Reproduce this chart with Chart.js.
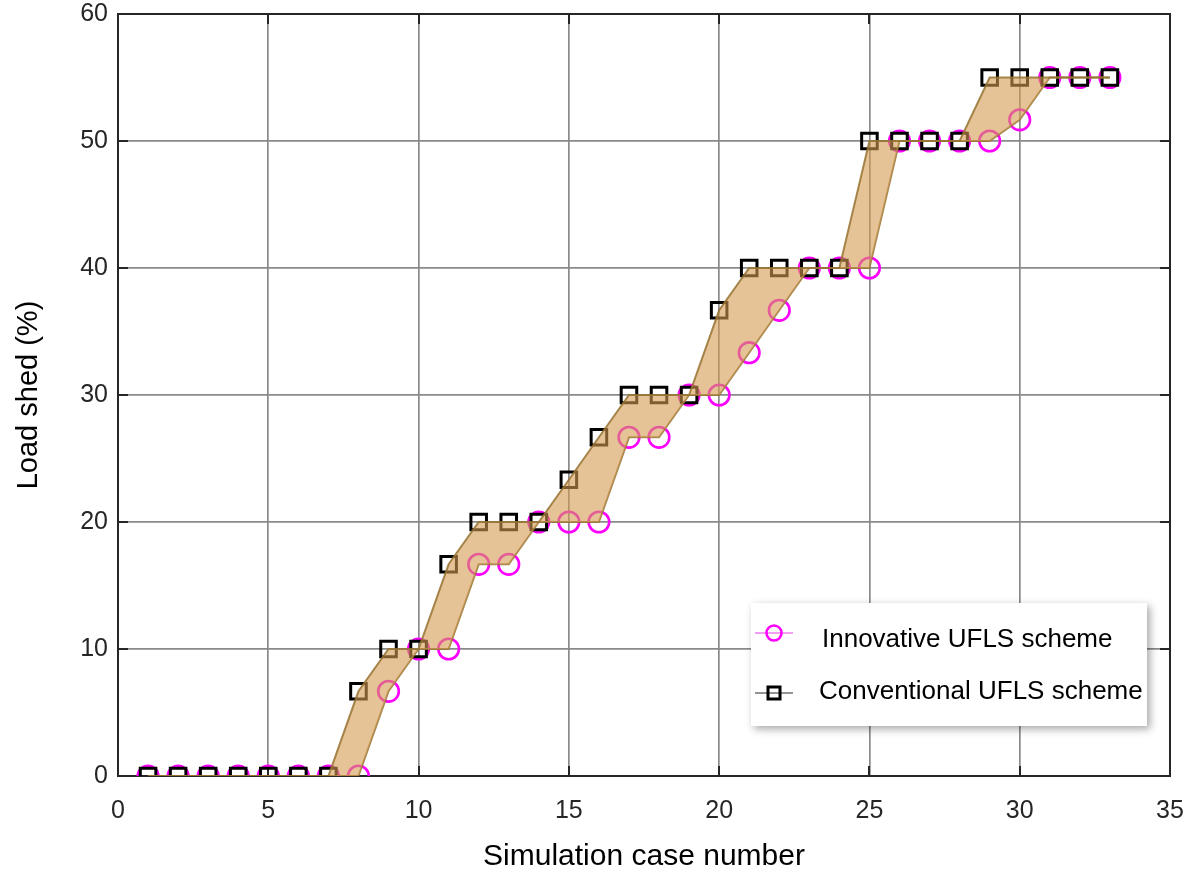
<!DOCTYPE html>
<html>
<head>
<meta charset="utf-8">
<script src="https://cdn.jsdelivr.net/npm/chart.js@4/dist/chart.umd.min.js"></script>
<style>
  html, body { margin: 0; padding: 0; background: #ffffff; }
  canvas { display: block; }
</style>
</head>
<body>
<canvas id="chart" width="1195" height="875"></canvas>
<script>
// Simulation cases and load shed (%) per scheme
const cases = [1,2,3,4,5,6,7,8,9,10,11,12,13,14,15,16,17,18,19,20,21,22,23,24,25,26,27,28,29,30,31,32,33];
const innovative = [0,0,0,0,0,0,0,0,6.67,10,10,16.67,16.67,20,20,20,26.67,26.67,30,30,33.33,36.67,40,40,40,50,50,50,50,51.67,55,55,55];
const conventional = [0,0,0,0,0,0,0,6.67,10,10,16.67,20,20,20,23.33,26.67,30,30,30,36.67,40,40,40,40,50,50,50,50,55,55,55,55,55];
const seriesNames = ['Innovative UFLS scheme', 'Conventional UFLS scheme'];

const xRange = { min: 0, max: 35, step: 5 };
const yRange = { min: 0, max: 60, step: 10 };

const toPoints = (vals) => cases.map((c, i) => ({ x: c, y: vals[i] }));

const INK = '#262626';
const FONT = '"Liberation Sans", Arial, sans-serif';

// Box frame and inward tick marks on all four sides
const framePlugin = {
  id: 'frame',
  beforeDatasetsDraw(chart) {
    const { ctx, chartArea: a, scales } = chart;
    ctx.save();
    ctx.strokeStyle = INK;
    ctx.lineWidth = 2;
    ctx.beginPath();
    const len = 10;
    scales.x.ticks.forEach(t => {
      const px = Math.round(scales.x.getPixelForValue(t.value));
      ctx.moveTo(px, a.bottom); ctx.lineTo(px, a.bottom - len);
      ctx.moveTo(px, a.top); ctx.lineTo(px, a.top + len);
    });
    scales.y.ticks.forEach(t => {
      const py = Math.round(scales.y.getPixelForValue(t.value));
      ctx.moveTo(a.left, py); ctx.lineTo(a.left + len, py);
      ctx.moveTo(a.right, py); ctx.lineTo(a.right - len, py);
    });
    ctx.stroke();
    ctx.strokeRect(a.left, a.top, a.right - a.left, a.bottom - a.top);
    ctx.restore();
  }
};

// Legend box with line + marker samples
const legendPlugin = {
  id: 'lineLegend',
  afterDraw(chart) {
    const { ctx } = chart;
    const box = { x: 751, y: 603, w: 396, h: 123 };
    ctx.save();
    ctx.shadowColor = 'rgba(0,0,0,0.35)';
    ctx.shadowBlur = 8;
    ctx.shadowOffsetX = 3;
    ctx.shadowOffsetY = 3;
    ctx.fillStyle = '#ffffff';
    ctx.fillRect(box.x, box.y, box.w, box.h);
    ctx.restore();

    ctx.save();
    const rows = [
      { y: 633, ty: 640, tx: 822, text: seriesNames[0], line: '#f07cf0', mark: '#ff00ff', shape: 'circle' },
      { y: 693, ty: 692, tx: 819, text: seriesNames[1], line: '#707070', mark: '#000000', shape: 'rect' }
    ];
    rows.forEach(r => {
      ctx.strokeStyle = r.line;
      ctx.lineWidth = 1.5;
      ctx.beginPath();
      ctx.moveTo(755, r.y); ctx.lineTo(793, r.y);
      ctx.stroke();
      ctx.strokeStyle = r.mark;
      ctx.lineWidth = r.shape === 'circle' ? 2.5 : 3;
      ctx.beginPath();
      if (r.shape === 'circle') {
        ctx.arc(774, r.y, 7.5, 0, Math.PI * 2);
      } else {
        ctx.rect(768, r.y - 6, 12, 12);
      }
      ctx.stroke();
      ctx.fillStyle = '#000000';
      ctx.font = '26px ' + FONT;
      ctx.textBaseline = 'middle';
      ctx.textAlign = 'left';
      ctx.fillText(r.text, r.tx, r.ty);
    });
    ctx.restore();
  }
};

new Chart(document.getElementById('chart'), {
  type: 'line',
  data: {
    datasets: [
      {
        label: seriesNames[0],
        data: toPoints(innovative),
        showLine: false,
        pointStyle: 'circle',
        pointRadius: 10.3,
        pointBorderWidth: 2.6,
        pointBorderColor: '#ff00ff',
        pointBackgroundColor: 'rgba(0,0,0,0)',
        order: 6
      },
      {
        label: seriesNames[1],
        data: toPoints(conventional),
        showLine: false,
        pointStyle: 'rect',
        pointRadius: 11,
        pointBorderWidth: 3,
        pointBorderColor: '#000000',
        pointBackgroundColor: 'rgba(0,0,0,0)',
        order: 5
      },
      {
        label: 'band-upper',
        data: toPoints(conventional),
        borderColor: 'rgba(150,115,50,0.85)',
        borderWidth: 2,
        pointRadius: 0,
        fill: '+1',
        backgroundColor: 'rgba(212,155,80,0.6)',
        tension: 0,
        order: 1
      },
      {
        label: 'band-lower',
        data: toPoints(innovative),
        borderColor: 'rgba(150,115,50,0.85)',
        borderWidth: 2,
        pointRadius: 0,
        fill: false,
        tension: 0,
        order: 2
      }
    ]
  },
  options: {
    responsive: false,
    animation: false,
    layout: { padding: { left: 0, right: 25, top: 14, bottom: 0 } },
    plugins: {
      legend: { display: false },
      tooltip: { enabled: false }
    },
    scales: {
      x: {
        type: 'linear',
        min: xRange.min, max: xRange.max,
        ticks: { stepSize: xRange.step, color: INK, font: { family: FONT, size: 25 }, padding: 20, maxRotation: 0 },
        grid: { color: '#8a8a8a', lineWidth: 1.7, drawTicks: false },
        border: { display: false },
        title: { display: true, text: 'Simulation case number', color: '#000000', font: { family: FONT, size: 30 }, padding: { top: 0, bottom: 0 } },
        afterFit(scale) {
          scale.height = 99;
          scale.paddingLeft = 0;
          scale.paddingRight = 0;
        }
      },
      y: {
        type: 'linear',
        min: yRange.min, max: yRange.max,
        ticks: { stepSize: yRange.step, color: INK, font: { family: FONT, size: 25 }, padding: 10 },
        grid: { color: '#8a8a8a', lineWidth: 1.7, drawTicks: false },
        border: { display: false },
        title: { display: true, text: 'Load shed (%)', color: '#000000', font: { family: FONT, size: 29 }, padding: { top: 12, bottom: 0 } },
        afterFit(scale) {
          scale.width = 118;
          scale.paddingTop = 0;
          scale.paddingBottom = 0;
        }
      }
    }
  },
  plugins: [framePlugin, legendPlugin]
});
</script>
</body>
</html>
